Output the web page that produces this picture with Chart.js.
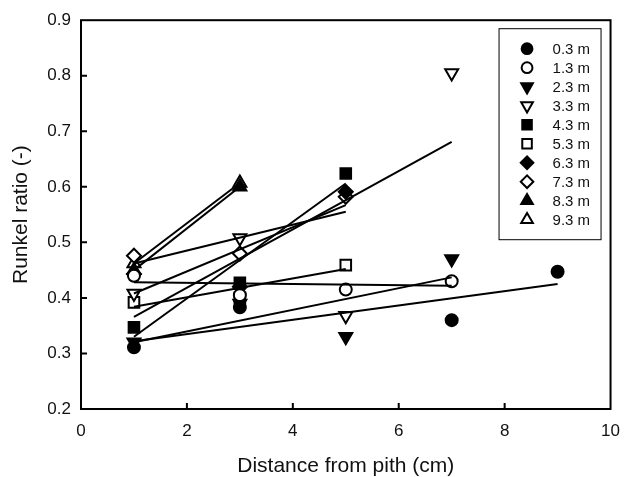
<!DOCTYPE html>
<html>
<head>
<meta charset="utf-8">
<script src="https://cdn.jsdelivr.net/npm/chart.js@4.4.0/dist/chart.umd.min.js"></script>
<style>
  html, body { margin: 0; padding: 0; background: #fff; }
</style>
</head>
<body>
<canvas id="chart" width="632" height="477"></canvas>
<script>
// Sampling heights (legend labels)
const heights = ['0.3 m', '1.3 m', '2.3 m', '3.3 m', '4.3 m', '5.3 m', '6.3 m', '7.3 m', '8.3 m', '9.3 m'];

// Distance from pith (cm) for each height
const dist03 = [1, 3, 7, 9];
const dist13 = [1, 3, 5, 7];
const dist23 = [1, 3, 5, 7];
const dist33 = [1, 3, 5, 7];
const dist43 = [1, 3, 5];
const dist53 = [1, 3, 5];
const dist63 = [1, 3, 5];
const dist73 = [1, 3, 5];
const dist83 = [1, 3];
const dist93 = [1, 3];

// Runkel ratio
const runkel03 = [0.311, 0.383, 0.360, 0.447];
const runkel13 = [0.440, 0.405, 0.415, 0.430];
const runkel23 = [0.320, 0.390, 0.330, 0.470];
const runkel33 = [0.408, 0.508, 0.368, 0.805];
const runkel43 = [0.347, 0.427, 0.624];
const runkel53 = [0.392, 0.400, 0.459];
const runkel63 = [0.443, 0.420, 0.591];
const runkel73 = [0.476, 0.480, 0.582];
const runkel83 = [0.450, 0.600];
const runkel93 = [0.462, 0.607];

// Regression lines: start / end distance and value, one per height
const fitFrom = [1, 1, 1, 1, 1, 1, 1, 1, 1, 1];
const fitTo = [9, 7, 7, 7, 5, 5, 5, 5, 3, 3];
const fitStart = [0.322, 0.428, 0.320, 0.366, 0.330, 0.384, 0.408, 0.462, 0.450, 0.462];
const fitEnd = [0.425, 0.422, 0.437, 0.681, 0.606, 0.452, 0.567, 0.555, 0.600, 0.607];

// Axis ticks and titles
const xTicks = [0, 2, 4, 6, 8, 10];
const yTicks = [0.2, 0.3, 0.4, 0.5, 0.6, 0.7, 0.8, 0.9];
const xTitle = 'Distance from pith (cm)';
const yTitle = 'Runkel ratio (-)';

const distances = [dist03, dist13, dist23, dist33, dist43, dist53, dist63, dist73, dist83, dist93];
const values = [runkel03, runkel13, runkel23, runkel33, runkel43, runkel53, runkel63, runkel73, runkel83, runkel93];

// marker look per height: [pointStyle, rotation, filled, radius]
const markers = [
  ['circle', 0, true, 6],
  ['circle', 0, false, 6],
  ['triangle', 180, true, 7.5],
  ['triangle', 180, false, 7.5],
  ['rect', 0, true, 7.5],
  ['rect', 0, false, 7.5],
  ['rectRot', 0, true, 7],
  ['rectRot', 0, false, 7],
  ['triangle', 0, true, 7.5],
  ['triangle', 0, false, 7.5]
];

const FONT = "'Liberation Sans', Arial, Helvetica, sans-serif";

const datasets = [];
heights.forEach((label, i) => {
  const [style, rot, filled, r] = markers[i];
  datasets.push({
    label: label,
    data: distances[i].map((d, k) => ({ x: d, y: values[i][k] })),
    pointStyle: style,
    rotation: rot,
    pointRadius: r,
    pointBackgroundColor: filled ? '#000' : '#fff',
    pointBorderColor: '#000',
    pointBorderWidth: 2,
    showLine: false,
    order: 1
  });
});
heights.forEach((label, i) => {
  datasets.push({
    label: 'fit ' + label,
    data: [{ x: fitFrom[i], y: fitStart[i] }, { x: fitTo[i], y: fitEnd[i] }],
    showLine: true,
    borderColor: '#000',
    borderWidth: 2,
    pointRadius: 0,
    fill: false,
    order: 0
  });
});

// Frame with inward ticks + boxed legend
const framePlugin = {
  id: 'frame',
  afterDraw(chart) {
    const { ctx, chartArea: a, scales: { x, y } } = chart;
    ctx.save();
    ctx.strokeStyle = '#000';
    ctx.lineWidth = 2;
    ctx.strokeRect(a.left, a.top, a.right - a.left, a.bottom - a.top);
    ctx.beginPath();
    xTicks.slice(1, -1).forEach(v => {
      const px = x.getPixelForValue(v);
      ctx.moveTo(px, a.bottom);
      ctx.lineTo(px, a.bottom - 6);
    });
    yTicks.slice(1, -1).forEach(v => {
      const py = y.getPixelForValue(v);
      ctx.moveTo(a.left, py);
      ctx.lineTo(a.left + 6, py);
    });
    ctx.stroke();

    // legend
    const boxRight = a.right - 10;
    const boxLeft = boxRight - 102;
    const boxTop = a.top + 8;
    const boxBottom = boxTop + 211;
    ctx.lineWidth = 1;
    ctx.strokeRect(boxLeft + 0.5, boxTop + 0.5, boxRight - boxLeft, boxBottom - boxTop);
    ctx.font = '15px ' + FONT;
    ctx.textBaseline = 'middle';
    ctx.textAlign = 'left';
    heights.forEach((label, i) => {
      const [style, rot, filled, r] = markers[i];
      const rowY = boxTop + 20.5 + i * 19;
      ctx.fillStyle = filled ? '#000' : '#fff';
      ctx.strokeStyle = '#000';
      ctx.lineWidth = 2;
      Chart.helpers.drawPoint(ctx, { pointStyle: style, rotation: rot, radius: r * 0.9, borderWidth: 2 }, boxLeft + 28.5, rowY);
      ctx.fillStyle = '#111';
      ctx.fillText(label, boxLeft + 54, rowY + 1);
    });
    ctx.restore();
  }
};

new Chart(document.getElementById('chart').getContext('2d'), {
  type: 'scatter',
  data: { datasets: datasets },
  options: {
    responsive: false,
    animation: false,
    devicePixelRatio: 1,
    layout: { padding: { left: 0, top: 20, right: 11, bottom: 0 } },
    plugins: { legend: { display: false }, tooltip: { enabled: false } },
    scales: {
      x: {
        type: 'linear',
        min: 0,
        max: 10,
        afterBuildTicks: s => { s.ticks = xTicks.map(v => ({ value: v })); },
        afterFit: s => { s.height = 68; },
        grid: { display: false, drawTicks: false },
        border: { display: false },
        ticks: { padding: 12, color: '#111', font: { size: 17, family: FONT }, callback: v => String(v) },
        title: { display: true, text: xTitle, color: '#111', font: { size: 21, family: FONT, lineHeight: 1 }, padding: { top: 0, bottom: 0 } }
      },
      y: {
        type: 'linear',
        min: 0.2,
        max: 0.9,
        afterBuildTicks: s => { s.ticks = yTicks.map(v => ({ value: v })); },
        afterFit: s => { s.width = 81; },
        grid: { display: false, drawTicks: false },
        border: { display: false },
        ticks: { padding: 10, color: '#111', font: { size: 17, family: FONT }, callback: v => Number(v).toFixed(1) },
        title: { display: true, text: yTitle, color: '#111', font: { size: 21, family: FONT }, padding: { top: 9, bottom: 0 } }
      }
    }
  },
  plugins: [framePlugin]
});
</script>
</body>
</html>
